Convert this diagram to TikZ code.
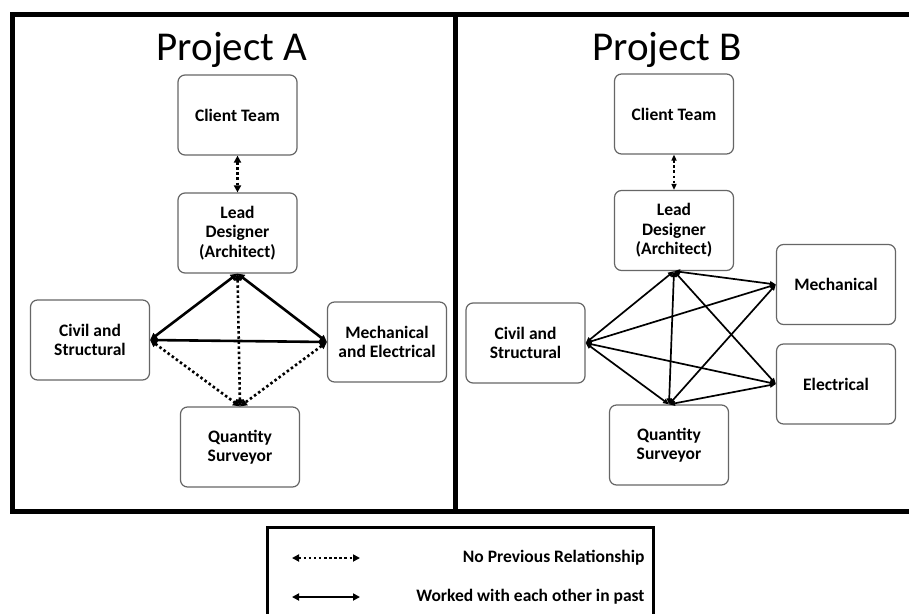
\documentclass[tikz,border=0pt]{standalone}
\usepackage{fontspec}
\setmainfont{Carlito}
\usetikzlibrary{arrows.meta}
\begin{document}
\begin{tikzpicture}[x=1pt,y=-1pt,
  box/.style={draw=black!60, line width=1.2pt, rounded corners=7pt, align=center,
    font=\fontsize{17.5}{19.5}\selectfont\bfseries, inner sep=0pt, text=black,
    minimum width=119pt, minimum height=80pt},
  title/.style={anchor=base, font=\fontsize{41}{48}\selectfont},
  tipA/.style={{Triangle[length=7pt,width=7pt]}-{Triangle[length=7pt,width=7pt]}},
  tipB/.style={{Triangle[length=6pt,width=5pt]}-{Triangle[length=6pt,width=5pt]}},
  solidA/.style={tipA, line width=2.6pt},
  dotA/.style={tipA, line width=2.6pt, dash pattern=on 2.5pt off 2.6pt},
  solidB/.style={tipB, line width=1.7pt},
  dotB/.style={tipB, line width=2.5pt, dash pattern=on 2.5pt off 2.6pt},
  legtext/.style={anchor=east, font=\fontsize{17.5}{19.5}\selectfont\bfseries}
]
\useasboundingbox (0,0) rectangle (909,613);
\clip (0,0) rectangle (909,613);
\fill[white] (0,0) rectangle (909,613);

% frames
\draw[line width=5pt] (915,14) -- (12,14) -- (12,511) -- (915,511);
\draw[line width=5pt] (455,14) -- (455,511);

% Project A
\node[title] (tA) at (232,60) {Project A};
\node[box] (cA) at (237.5,115) {Client Team};
\node[box] (lA) at (237.5,233) {Lead\\Designer\\(Architect)};
\node[box] (sA) at (90,340) {Civil and\\Structural};
\node[box] (mA) at (387,342) {Mechanical\\and Electrical};
\node[box] (qA) at (240,447) {Quantity\\Surveyor};

\draw[dotA] (cA) -- (lA);
\draw[solidA] (lA.south) -- (sA.east);
\draw[solidA] (lA.south) -- (mA.west);
\draw[solidA] (sA.east) -- (mA.west);
\draw[dotA] (lA.south) -- (qA.north);
\draw[dotA] (sA.east) -- (qA.north);
\draw[dotA] (mA.west) -- (qA.north);

% Project B
\node[title] (tB) at (667,60) {Project B};
\node[box] (cB) at (674,114) {Client Team};
\node[box] (lB) at (674,230.5) {Lead\\Designer\\(Architect)};
\node[box] (sB) at (525.5,343) {Civil and\\Structural};
\node[box] (mB) at (836,284.5) {Mechanical};
\node[box] (eB) at (836,384) {Electrical};
\node[box] (qB) at (669,445) {Quantity\\Surveyor};

\draw[dotB] (cB) -- (lB);
\draw[solidB] (lB.south) -- (sB.east);
\draw[solidB] (lB.south) -- (qB.north);
\draw[solidB] (lB.south) -- (mB.west);
\draw[solidB] (lB.south) -- (eB.west);
\draw[solidB] (sB.east) -- (mB.west);
\draw[solidB] (sB.east) -- (eB.west);
\draw[solidB] (sB.east) -- (qB.north);
\draw[solidB] (qB.north) -- (mB.west);
\draw[solidB] (qB.north) -- (eB.west);

% Legend
\draw[line width=3pt] (267,640) -- (267,527) -- (653,527) -- (653,640);
\coordinate (d1) at (292,558);
\coordinate (d2) at (360,558);
\coordinate (s1) at (292,597);
\coordinate (s2) at (360,597);
\draw[dotA] (d1) -- (d2);
\draw[solidA] (s1) -- (s2);
\node[legtext] (l1) at (648,558) {No Previous Relationship};
\node[legtext] (l2) at (648,597) {Worked with each other in past};
\end{tikzpicture}
\end{document}
